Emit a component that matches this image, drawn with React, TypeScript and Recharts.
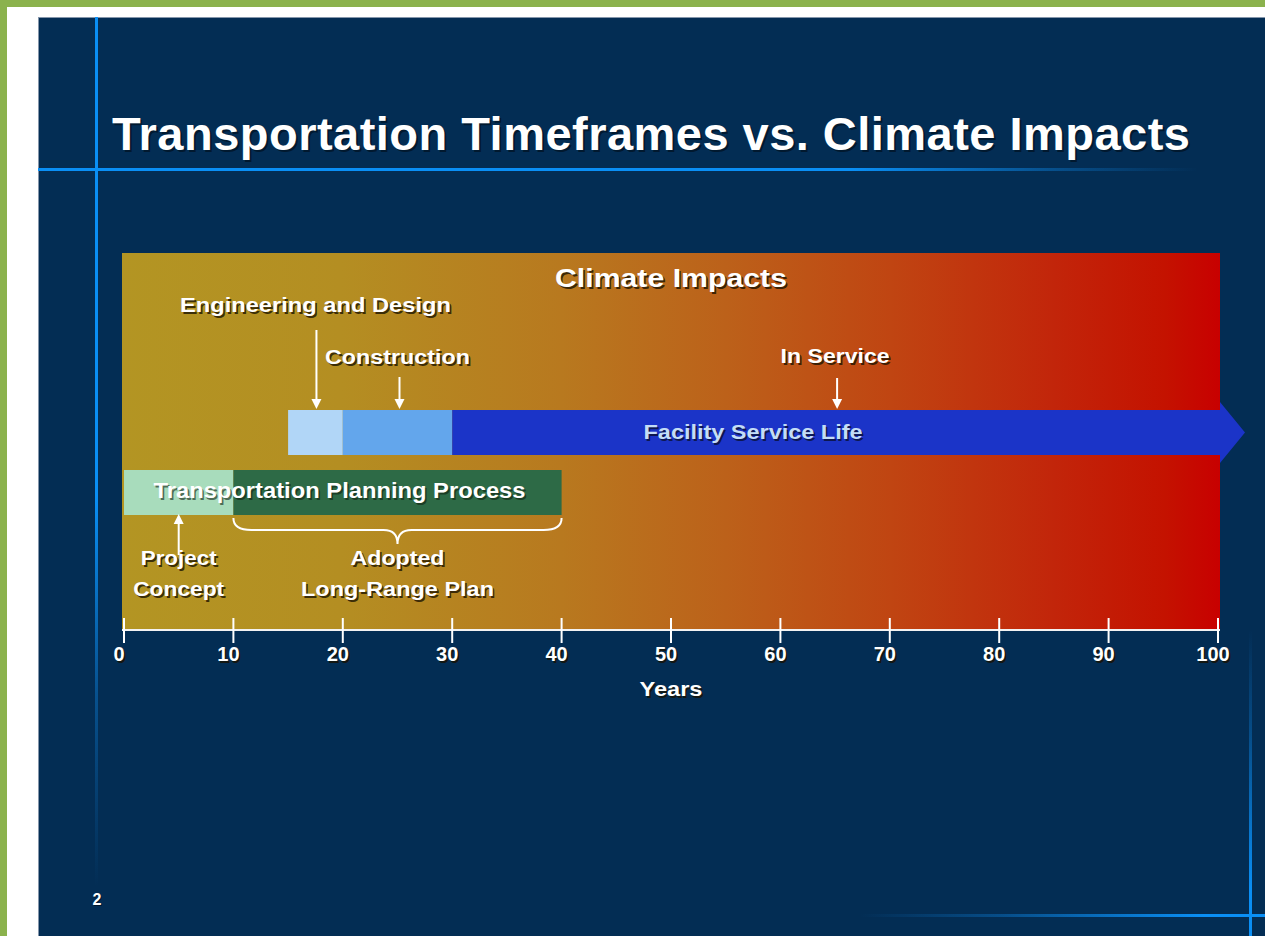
import React from 'react';
import { BarChart, Bar, XAxis, YAxis, CartesianGrid, ReferenceDot, ReferenceLine } from 'recharts';

// ---------- data ----------
const rows = ['service', 'planning'];
const leadTime = [15, 0];
const engineeringDesign = [5, 0];
const construction = [10, 0];
const inService = [70, 0];
const projectConcept = [0, 10];
const longRangePlan = [0, 30];
const yearTicks = [0, 10, 20, 30, 40, 50, 60, 70, 80, 90, 100];
const yearDomain = [0, 100];

const calloutLabels = ['Engineering and Design', 'Construction', 'In Service'];
const calloutYears = [17.5, 25, 65];
const braceYears = [10, 40];

const data = rows.map((row, i) => ({
  row,
  lead: leadTime[i],
  eng: engineeringDesign[i],
  con: construction[i],
  svc: inService[i],
  concept: projectConcept[i],
  lrp: longRangePlan[i],
}));

// ---------- styling helpers ----------
const FONT = '"Liberation Sans", Arial, Helvetica, sans-serif';
const NAVY = '#032D54';
const LINE_BLUE = '#0A8FF5';

function SText(props: any) {
  const { x, y, children, size = 21, len, anchor = 'middle', fill = '#ffffff', shadow = '#1a1200', off = 1.7, shadowOpacity = 0.8, adjust = 'spacingAndGlyphs' } = props;
  const common: any = {
    fontFamily: FONT,
    fontWeight: 700,
    fontSize: size,
    textAnchor: anchor,
  };
  if (len) {
    common.textLength = len;
    common.lengthAdjust = adjust;
  }
  return (
    <g>
      <text x={x + off} y={y + off} fill={shadow} fillOpacity={shadowOpacity} {...common}>{children}</text>
      <text x={x} y={y} fill={fill} {...common}>{children}</text>
    </g>
  );
}

function Arrow({ x, from, to }: any) {
  const dir = to > from ? 1 : -1;
  const head = 10;
  const base = to - dir * head;
  return (
    <g>
      <line x1={x} y1={from} x2={x} y2={base} stroke="#ffffff" strokeWidth={2} />
      <path d={`M${x - 5},${base} L${x + 5},${base} L${x},${to} Z`} fill="#ffffff" />
    </g>
  );
}

const ServiceArrow = (props: any) => {
  const { x, y, width, height, fill } = props;
  if (!width || width <= 0) return <g />;
  const over = 8;
  const tip = 25;
  return (
    <path
      d={`M${x},${y} H${x + width + 2} V${y - over} L${x + width + 2 + tip},${y + height / 2} L${x + width + 2},${y + height + over} V${y + height} H${x} Z`}
      fill={fill}
    />
  );
};

const YearTick = (props: any) => {
  const { x, y, payload } = props;
  return (
    <g>
      <line x1={x} y1={y - 12} x2={x} y2={y + 13} stroke="#ffffff" strokeWidth={2} />
      <SText x={x - 5} y={y + 31} size={20}>{payload.value}</SText>
    </g>
  );
};

const YearsLabel = (props: any) => {
  const vb = props.viewBox || {};
  const cx = (vb.x || 0) + (vb.width || 0) / 2;
  return <SText x={cx} y={(vb.y || 0) + 66} size={21} len={63}>Years</SText>;
};

// callout render offsets (text baseline / arrow start, relative to the service bar centre)
const calloutText = [-120, -68, -69];
const calloutTextLen = [271, 145, 109];
const calloutArrowFrom = [-102, -55, -54];

export default function App() {
  return (
    <div style={{ position: 'absolute', left: 0, top: 0, width: 1265, height: 936, overflow: 'hidden', background: '#ffffff' }}>
      {/* green frame */}
      <div style={{ position: 'absolute', left: 0, top: 0, width: 1265, height: 7, background: '#8BB24D' }} />
      <div style={{ position: 'absolute', left: 0, top: 0, width: 7, height: 936, background: '#8BB24D' }} />
      {/* navy slide */}
      <div style={{ position: 'absolute', left: 38, top: 17, right: 0, bottom: 0, background: NAVY, borderTop: '1px solid #8596ab', borderLeft: '1px solid #8596ab' }} />
      {/* decorative lines */}
      <div style={{ position: 'absolute', left: 95, top: 17, width: 3, height: 870, background: `linear-gradient(to bottom, ${LINE_BLUE} 0%, ${LINE_BLUE} 55%, rgba(10,110,190,0.55) 78%, rgba(3,45,84,0) 100%)` }} />
      <div style={{ position: 'absolute', left: 38, top: 168, width: 1160, height: 3, background: `linear-gradient(to right, ${LINE_BLUE} 0%, ${LINE_BLUE} 70%, rgba(10,110,190,0.5) 88%, rgba(3,45,84,0) 100%)` }} />
      <div style={{ position: 'absolute', left: 1249, top: 630, width: 3, height: 306, background: `linear-gradient(to bottom, rgba(3,45,84,0) 0%, rgba(10,110,190,0.5) 35%, ${LINE_BLUE} 85%, ${LINE_BLUE} 100%)` }} />
      <div style={{ position: 'absolute', left: 860, top: 914, width: 405, height: 3, background: `linear-gradient(to right, rgba(3,45,84,0) 0%, rgba(10,110,190,0.5) 35%, ${LINE_BLUE} 85%, ${LINE_BLUE} 100%)` }} />

      {/* title + defs */}
      <svg width={1265} height={936} style={{ position: 'absolute', left: 0, top: 0 }}>
        <defs>
          <linearGradient id="climateGrad" x1="0" y1="0" x2="1" y2="0">
            <stop offset="0%" stopColor="#B39523" />
            <stop offset="20%" stopColor="#B48E22" />
            <stop offset="40%" stopColor="#B8791F" />
            <stop offset="55%" stopColor="#BC611A" />
            <stop offset="70%" stopColor="#C04512" />
            <stop offset="85%" stopColor="#C2250A" />
            <stop offset="95%" stopColor="#C41200" />
            <stop offset="100%" stopColor="#C80000" />
          </linearGradient>
        </defs>
        <SText x={112} y={150} size={47} anchor="start" len={1078} adjust="spacing" shadow="#000000" shadowOpacity={0.45} off={2}>
          Transportation Timeframes vs. Climate Impacts
        </SText>
        <SText x={97} y={905} size={16} shadow="#000000" shadowOpacity={0.5} off={1}>2</SText>
      </svg>

      <div style={{ position: 'absolute', left: 0, top: 0 }}>
        <BarChart
          width={1265}
          height={936}
          data={data}
          layout="vertical"
          margin={{ top: 253, left: 122, right: 45, bottom: 276 }}
          barSize={45}
        >
          <CartesianGrid horizontal={false} vertical={false} fill="url(#climateGrad)" stroke="none" />
          <XAxis
            type="number"
            domain={yearDomain}
            ticks={yearTicks}
            padding={{ left: 2, right: 2 }}
            height={30}
            axisLine={{ stroke: '#f2f2f2', strokeWidth: 2 }}
            tickLine={false}
            tickSize={0}
            tickMargin={0}
            tick={<YearTick />}
            interval={0}
            label={<YearsLabel />}
          />
          <YAxis type="category" dataKey="row" hide width={0} padding={{ top: 149, bottom: 108 }} />
          <Bar dataKey="lead" stackId="t" fill="none" isAnimationActive={false} />
          <Bar dataKey="eng" stackId="t" fill="#B1D6F7" isAnimationActive={false} />
          <Bar dataKey="con" stackId="t" fill="#63A6EC" isAnimationActive={false} />
          <Bar dataKey="svc" stackId="t" fill="#1B34C8" shape={ServiceArrow} isAnimationActive={false} />
          <Bar dataKey="concept" stackId="t" fill="#A8DCBC" isAnimationActive={false} />
          <Bar dataKey="lrp" stackId="t" fill="#2D6A46" isAnimationActive={false} />

          {/* Climate Impacts heading */}
          <ReferenceDot
            x={50}
            y="service"
            ifOverflow="visible"
            shape={(p: any) => <SText x={p.cx} y={p.cy - 145} size={26} len={232}>Climate Impacts</SText>}
          />
          {/* callouts above the service bar */}
          {calloutLabels.map((label, i) => (
            <ReferenceDot
              key={label}
              x={calloutYears[i]}
              y="service"
              ifOverflow="visible"
              shape={(p: any) => (
                <g>
                  <SText x={p.cx} y={p.cy + calloutText[i]} size={21} len={calloutTextLen[i]}>{label}</SText>
                  <Arrow x={p.cx + (i === 0 ? 1 : 2)} from={p.cy + calloutArrowFrom[i]} to={p.cy - 23} />
                </g>
              )}
            />
          ))}
          {/* bar labels */}
          <ReferenceDot
            x={57.5}
            y="service"
            ifOverflow="visible"
            shape={(p: any) => (
              <SText x={p.cx} y={p.cy + 7} size={21} len={219} fill="#C4DDF6" shadow="#0a1030">Facility Service Life</SText>
            )}
          />
          <ReferenceDot
            x={19.7}
            y="planning"
            ifOverflow="visible"
            shape={(p: any) => (
              <SText x={p.cx} y={p.cy + 6} size={22} len={372} shadow="#102010" shadowOpacity={0.6}>Transportation Planning Process</SText>
            )}
          />
          {/* project concept */}
          <ReferenceDot
            x={5}
            y="planning"
            ifOverflow="visible"
            shape={(p: any) => (
              <g>
                <Arrow x={p.cx} from={p.cy + 63} to={p.cy + 22} />
                <SText x={p.cx} y={p.cy + 73} size={21} len={76}>Project</SText>
                <SText x={p.cx} y={p.cy + 104} size={21} len={91}>Concept</SText>
              </g>
            )}
          />
          {/* adopted long-range plan brace */}
          <ReferenceLine
            segment={[{ x: braceYears[0], y: 'planning' }, { x: braceYears[1], y: 'planning' }]}
            ifOverflow="visible"
            shape={(p: any) => {
              const x1 = p.x1, x2 = p.x2, y = p.y1;
              const mid = (x1 + x2) / 2;
              const top = y + 26, h = y + 38, tipY = y + 52;
              const d = `M${x1},${top} Q${x1},${h} ${x1 + 18},${h} L${mid - 14},${h} Q${mid},${h} ${mid},${tipY} Q${mid},${h} ${mid + 14},${h} L${x2 - 18},${h} Q${x2},${h} ${x2},${top}`;
              return (
                <g>
                  <path d={d} fill="none" stroke="#ffffff" strokeWidth={2} />
                  <SText x={mid} y={y + 73} size={21} len={94}>Adopted</SText>
                  <SText x={mid} y={y + 104} size={21} len={193}>Long-Range Plan</SText>
                </g>
              );
            }}
          />
        </BarChart>
      </div>
    </div>
  );
}
